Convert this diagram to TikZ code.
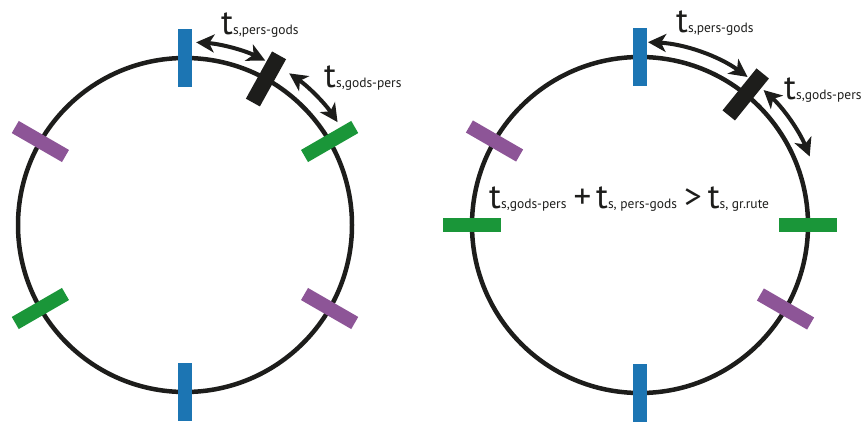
\documentclass[tikz,border=0pt]{standalone}
\usepackage{fontspec}
\setmainfont{PT Sans}
\usetikzlibrary{arrows.meta,calc}
\definecolor{mblue}{HTML}{1C75B3}
\definecolor{mgreen}{HTML}{1A9639}
\definecolor{mpurple}{HTML}{8D5597}
\definecolor{mblack}{HTML}{1D1D1B}
\newcommand{\tlab}[1]{{\fontsize{35}{35}\selectfont t}{\fontsize{13.5}{13.5}\selectfont #1}}
\newcommand{\bigsym}[1]{{\fontsize{35}{35}\selectfont #1}}
\begin{document}
\begin{tikzpicture}[x=1pt,y=1pt,
  ring/.style={draw=mblack,line width=4.5pt},
  marker/.style={rectangle,inner sep=0pt,minimum width=58pt,minimum height=14pt},
  blackmark/.style={rectangle,inner sep=0pt,minimum width=54pt,minimum height=16pt,fill=mblack},
  arr/.style={draw=mblack,line width=4pt,{Stealth[length=18pt,width=18pt,inset=5pt]}-{Stealth[length=18pt,width=18pt,inset=5pt]}},
  lbl/.style={inner sep=0pt,anchor=base west,text=mblack}]
\useasboundingbox (0,0) rectangle (861,421);
\coordinate (L) at (185,196);
\coordinate (R) at (640,196);
% circles
\draw[ring] (L) circle[radius=167];
\draw[ring] (R) circle[radius=168];
% left arrows
\draw[arr] ($(L)+(86.5:183)$) arc[start angle=86.5,end angle=64,radius=183];
\draw[arr] ($(L)+(55.5:184)$) arc[start angle=55.5,end angle=34,radius=184];
% right arrows
\draw[arr] ($(R)+(87.5:183)$) arc[start angle=87.5,end angle=54,radius=183];
\draw[arr] ($(R)+(47.5:183)$) arc[start angle=47.5,end angle=22,radius=183];
% left markers
\node[marker,fill=mblue,rotate=90] (l1) at ($(L)+(90:167)$) {};
\node[marker,fill=mblue,rotate=270] (l2) at ($(L)+(270:167)$) {};
\node[marker,fill=mgreen,rotate=30] (l3) at ($(L)+(30:167)$) {};
\node[marker,fill=mpurple,rotate=150] (l4) at ($(L)+(150:167)$) {};
\node[marker,fill=mgreen,rotate=210] (l5) at ($(L)+(210:167)$) {};
\node[marker,fill=mpurple,rotate=-30] (l6) at ($(L)+(-30:167)$) {};
\node[blackmark,rotate=61] (l7) at ($(L)+(61:167)$) {};
% right markers
\node[marker,fill=mblue,rotate=90] (r1) at ($(R)+(90:168)$) {};
\node[marker,fill=mblue,rotate=270] (r2) at ($(R)+(270:168)$) {};
\node[marker,fill=mgreen,rotate=0] (r3) at ($(R)+(0:168)$) {};
\node[marker,fill=mpurple,rotate=150] (r4) at ($(R)+(150:168)$) {};
\node[marker,fill=mgreen,rotate=180] (r5) at ($(R)+(180:168)$) {};
\node[marker,fill=mpurple,rotate=-30] (r6) at ($(R)+(-30:168)$) {};
\node[blackmark,rotate=51] (r7) at ($(R)+(51:168)$) {};
% labels
\node[lbl] (t1) at (221,386) {\tlab{s,pers-gods}};
\node[lbl] (t2) at (324,333) {\tlab{s,gods-pers}};
\node[lbl] (t3) at (676,388) {\tlab{s,pers-gods}};
\node[lbl] (t4) at (784,321) {\tlab{s,gods-pers}};
\node[lbl] (eq) at (489,213) {\tlab{s,gods-pers}\hspace{7pt}\bigsym{+}\hspace{5pt}\tlab{s, pers-gods}\hspace{7pt}\bigsym{>}\hspace{6pt}\tlab{s, gr.rute}};
\end{tikzpicture}
\end{document}
